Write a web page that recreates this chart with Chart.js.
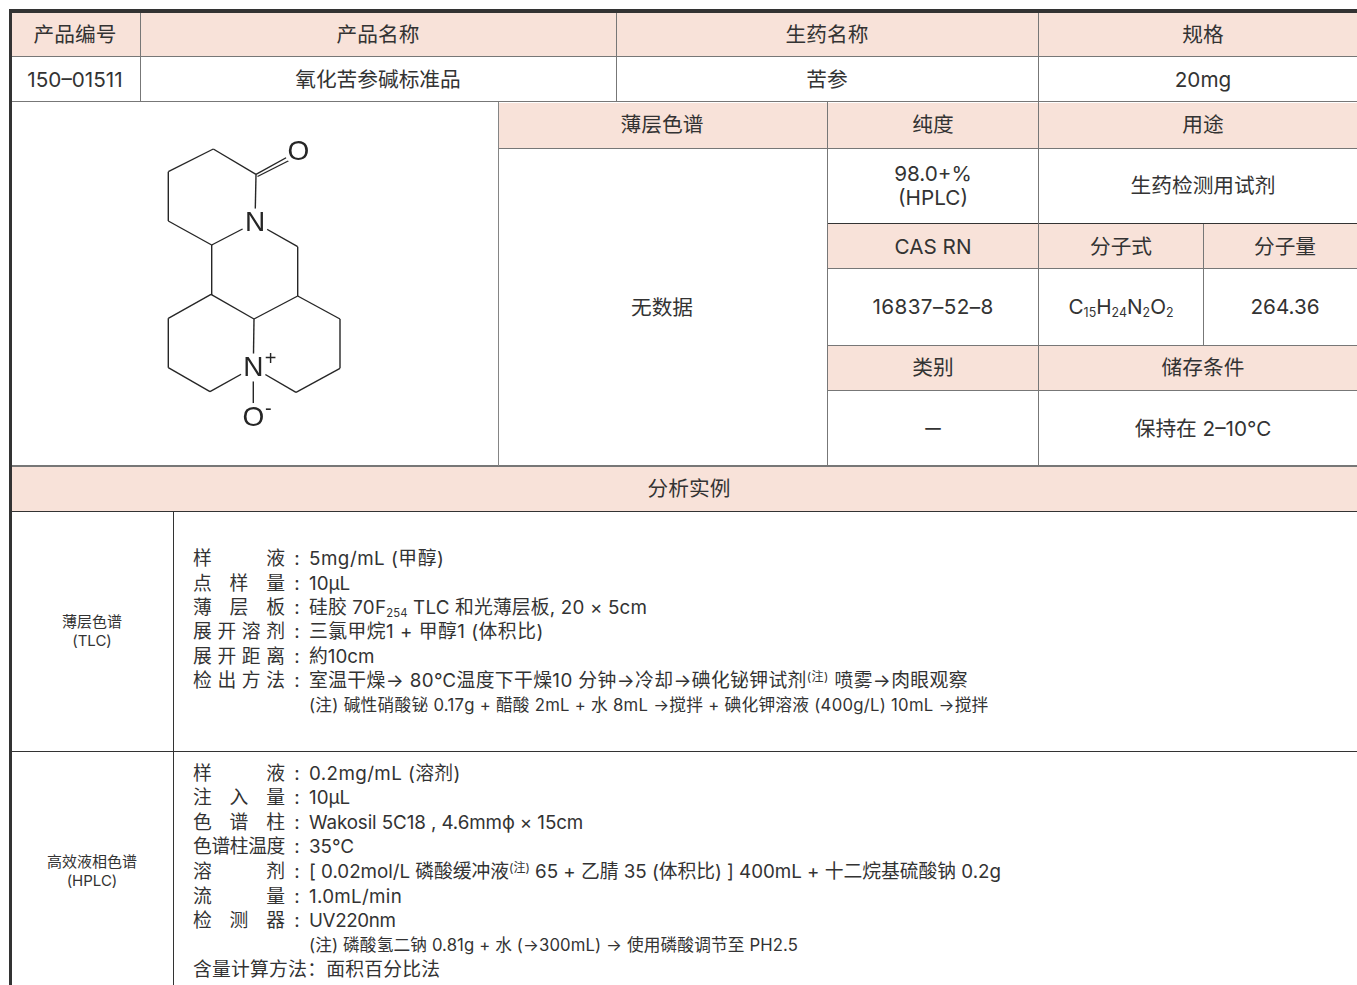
<!DOCTYPE html>
<html>
<head>
<meta charset="utf-8">
<script src="https://cdn.jsdelivr.net/npm/chart.js@4/dist/chart.umd.min.js"></script>
<style>
html, body { margin: 0; padding: 0; background: #fff; overflow: hidden; }
#page { position: relative; width: 1357px; height: 985px; overflow: hidden; color: #333;
  font-family: Inter, "Noto Sans CJK SC", sans-serif; font-size: 20.7px; }
.fill { position: absolute; background: #f8e2d9; }
.h, .v { position: absolute; background: #777; }
.h { height: 1px; }
.v { width: 1px; }
.wide { width: 1.6px; background: #858585; }
.dark { background: #333; }
.c { position: absolute; transform: translate(-50%, -50%); white-space: nowrap; text-align: center; line-height: 1.15; }
.side { font-size: 15px; line-height: 19px; }
.row { position: absolute; left: 193px; height: 24px; line-height: 24px; font-size: 18.8px; white-space: nowrap; display: flex; }
.row b { font-weight: normal; display: block; width: 92px; text-align: justify; text-align-last: justify; }
.row i { font-style: normal; display: block; width: 24px; text-align: center; }
.row b.tight { text-align-last: auto; letter-spacing: -0.4px; white-space: nowrap; }
.note { position: absolute; left: 309px; height: 22px; line-height: 22px; font-size: 16.7px; white-space: nowrap; }
sub { font-size: 60%; vertical-align: -3px; line-height: 0; }
sup { font-size: 64%; vertical-align: 6px; line-height: 0; }
#molecule { position: absolute; left: 13px; top: 103px; }
</style>
</head>
<body>
<div id="page">
  <div class="fill" style="left:12px;top:13px;width:1345px;height:43px"></div>
  <div class="fill" style="left:498px;top:103px;width:859px;height:45px"></div>
  <div class="fill" style="left:827px;top:224px;width:530px;height:44px"></div>
  <div class="fill" style="left:827px;top:346px;width:530px;height:44px"></div>
  <div class="fill" style="left:12px;top:466px;width:1345px;height:45px"></div>

  <canvas id="molecule" width="484" height="362"></canvas>

  <div class="h" style="left:12px;top:56px;width:1345px"></div>
  <div class="h" style="left:12px;top:101px;width:1345px"></div>
  <div class="h" style="left:498px;top:148px;width:859px"></div>
  <div class="h dark" style="left:827px;top:223px;width:530px"></div>
  <div class="h" style="left:827px;top:268px;width:530px"></div>
  <div class="h" style="left:827px;top:345px;width:530px"></div>
  <div class="h" style="left:827px;top:390px;width:530px"></div>
  <div class="h" style="left:12px;top:465px;width:1345px;height:1.6px"></div>
  <div class="h dark" style="left:12px;top:511px;width:1345px"></div>
  <div class="h dark" style="left:12px;top:751px;width:1345px"></div>
  <div class="v" style="left:140px;top:13px;height:89px"></div>
  <div class="v" style="left:616px;top:13px;height:89px"></div>
  <div class="v" style="left:1038px;top:13px;height:453px"></div>
  <div class="v wide" style="left:497.5px;top:102px;height:364px"></div>
  <div class="v" style="left:827px;top:102px;height:364px"></div>
  <div class="v" style="left:1203px;top:224px;height:122px"></div>
  <div class="v dark" style="left:173px;top:512px;height:473px"></div>
  <div class="h dark" style="left:9px;top:9px;width:1348px;height:4px"></div>
  <div class="v dark" style="left:9px;top:9px;width:3px;height:976px"></div>

  <span class="c" style="left:75px;top:35px">产品编号</span>
  <span class="c" style="left:378px;top:35px">产品名称</span>
  <span class="c" style="left:827px;top:35px">生药名称</span>
  <span class="c" style="left:1203px;top:35px">规格</span>
  <span class="c" style="left:75px;top:80px">150–01511</span>
  <span class="c" style="left:378px;top:80px">氧化苦参碱标准品</span>
  <span class="c" style="left:827px;top:80px">苦参</span>
  <span class="c" style="left:1203px;top:80px">20mg</span>
  <span class="c" style="left:662px;top:125px">薄层色谱</span>
  <span class="c" style="left:933px;top:125px">纯度</span>
  <span class="c" style="left:1203px;top:125px">用途</span>
  <span class="c" style="left:933px;top:186px">98.0+%<br>(HPLC)</span>
  <span class="c" style="left:1203px;top:186px">生药检测用试剂</span>
  <span class="c" style="left:933px;top:247px">CAS RN</span>
  <span class="c" style="left:1121px;top:247px">分子式</span>
  <span class="c" style="left:1285px;top:247px">分子量</span>
  <span class="c" style="left:662px;top:308px">无数据</span>
  <span class="c" style="left:933px;top:307px;letter-spacing:.4px">16837–52–8</span>
  <span class="c" style="left:1121px;top:307px">C<sub>15</sub>H<sub>24</sub>N<sub>2</sub>O<sub>2</sub></span>
  <span class="c" style="left:1285px;top:307px">264.36</span>
  <span class="c" style="left:933px;top:368px">类别</span>
  <span class="c" style="left:1203px;top:368px">储存条件</span>
  <span class="c" style="left:933px;top:428px;transform:translate(-50%,-50%) scaleX(1.5)">–</span>
  <span class="c" style="left:1203px;top:429px">保持在 2–10℃</span>
  <span class="c" style="left:689px;top:489px">分析实例</span>

  <span class="c side" style="left:92px;top:631px">薄层色谱<br>(TLC)</span>
  <span class="c side" style="left:92px;top:871px">高效液相色谱<br>(HPLC)</span>

  <div class="row" style="top:547px"><b>样 液</b><i>:</i><span style="letter-spacing:.5px">5mg/mL (甲醇)</span></div>
  <div class="row" style="top:572px"><b>点 样 量</b><i>:</i><span>10μL</span></div>
  <div class="row" style="top:596px"><b>薄 层 板</b><i>:</i><span style="letter-spacing:.17px">硅胶 70F<sub>254</sub> TLC 和光薄层板, 20 × 5cm</span></div>
  <div class="row" style="top:620px"><b>展 开 溶 剂</b><i>:</i><span style="letter-spacing:.5px">三氯甲烷1 + 甲醇1 (体积比)</span></div>
  <div class="row" style="top:645px"><b>展 开 距 离</b><i>:</i><span>約10cm</span></div>
  <div class="row" style="top:669px"><b>检 出 方 法</b><i>:</i><span style="letter-spacing:.4px">室温干燥→ 80℃温度下干燥10 分钟→冷却→碘化铋钾试剂<sup>(注)</sup> 喷雾→肉眼观察</span></div>
  <div class="note" style="top:694px;letter-spacing:.27px">(注) 碱性硝酸铋 0.17g + 醋酸 2mL + 水 8mL →搅拌 + 碘化钾溶液 (400g/L) 10mL →搅拌</div>

  <div class="row" style="top:762px"><b>样 液</b><i>:</i><span style="letter-spacing:.4px">0.2mg/mL (溶剂)</span></div>
  <div class="row" style="top:786px"><b>注 入 量</b><i>:</i><span>10μL</span></div>
  <div class="row" style="top:811px"><b>色 谱 柱</b><i>:</i><span style="letter-spacing:-.1px">Wakosil 5C18 , 4.6mmϕ × 15cm</span></div>
  <div class="row" style="top:835px"><b class="tight">色谱柱温度</b><i>:</i><span>35℃</span></div>
  <div class="row" style="top:860px"><b>溶 剂</b><i>:</i><span style="letter-spacing:-.03px">[ 0.02mol/L 磷酸缓冲液<sup>(注)</sup> 65 + 乙腈 35 (体积比) ] 400mL + 十二烷基硫酸钠 0.2g</span></div>
  <div class="row" style="top:885px"><b>流 量</b><i>:</i><span style="letter-spacing:.3px">1.0mL/min</span></div>
  <div class="row" style="top:909px"><b>检 测 器</b><i>:</i><span style="letter-spacing:-.4px">UV220nm</span></div>
  <div class="note" style="top:934px;letter-spacing:.12px">(注) 磷酸氢二钠 0.81g + 水 (→300mL) → 使用磷酸调节至 PH2.5</div>
  <div class="row" style="top:958px"><span style="letter-spacing:.25px">含量计算方法：面积百分比法</span></div>
</div>

<script>
// atoms of the structure
const atomNames = ["a", "b", "n1", "d", "e", "f", "o1", "g", "h", "i", "j", "k", "l", "m", "n2", "n", "q", "p", "o2", "b2", "o1b"];
const atomX = [213.3, 256, 255, 211.7, 168.3, 168.3, 298.3, 297.7, 297.7, 211, 254, 168.3, 168.3, 210, 253.3, 296, 340, 340, 253.3, 257.5, 300];
const atomY = [149, 174.3, 222.5, 245, 221, 171.7, 151, 246.7, 296, 294.3, 319, 318.3, 367.7, 391.7, 367.5, 392.3, 368.3, 319, 417, 176.5, 155];

const bonds = [
  ["a", "b"], ["b", "n1"], ["n1", "d"], ["d", "e"], ["e", "f"], ["f", "a"],
  ["b", "o1"], ["b2", "o1b"],
  ["n1", "g"], ["g", "h"], ["h", "j"], ["j", "i"], ["i", "d"],
  ["i", "k"], ["k", "l"], ["l", "m"], ["m", "n2"], ["n2", "j"],
  ["n2", "n"], ["n", "q"], ["q", "p"], ["p", "h"], ["n2", "o2"]
];

const heteroAtoms = ["n1", "n2", "o1", "o2"];
const atomLabels = ["N", "N", "O", "O"];

function atomPoint(name) {
  const index = atomNames.indexOf(name);
  return { x: atomX[index], y: atomY[index] };
}

const bondDatasets = bonds.map(bond => ({
  data: [atomPoint(bond[0]), atomPoint(bond[1])],
  showLine: true,
  borderColor: "#262626",
  borderWidth: 1.4,
  pointRadius: 0,
}));

// white discs that open the bonds around the atom letters
const maskDataset = {
  data: heteroAtoms.map(atomPoint),
  showLine: false,
  pointRadius: 14,
  pointBackgroundColor: "#fff",
  pointBorderWidth: 0,
};

const atomLabelPlugin = {
  id: "atomLabels",
  afterDatasetsDraw(chart) {
    const ctx = chart.ctx;
    const xScale = chart.scales.x;
    const yScale = chart.scales.y;
    ctx.save();
    ctx.fillStyle = "#262626";
    ctx.textAlign = "center";
    ctx.textBaseline = "middle";
    ctx.font = "28px 'Liberation Sans'";
    heteroAtoms.forEach((name, i) => {
      const p = atomPoint(name);
      ctx.fillText(atomLabels[i], xScale.getPixelForValue(p.x), yScale.getPixelForValue(p.y) + 1);
    });
    ctx.font = "20px 'Liberation Sans'";
    ctx.fillText("+", xScale.getPixelForValue(270.7), yScale.getPixelForValue(359));
    ctx.fillText("-", xScale.getPixelForValue(268.3), yScale.getPixelForValue(409));
    ctx.restore();
  },
};

new Chart(document.getElementById("molecule"), {
  type: "scatter",
  data: { datasets: [maskDataset].concat(bondDatasets) },
  plugins: [atomLabelPlugin],
  options: {
    responsive: false,
    animation: false,
    layout: { padding: 0, autoPadding: false },
    plugins: { legend: { display: false }, tooltip: { enabled: false } },
    scales: {
      x: { type: "linear", min: 13, max: 497, display: false },
      y: { type: "linear", min: 103, max: 465, reverse: true, display: false },
    },
  },
});
</script>
</body>
</html>
